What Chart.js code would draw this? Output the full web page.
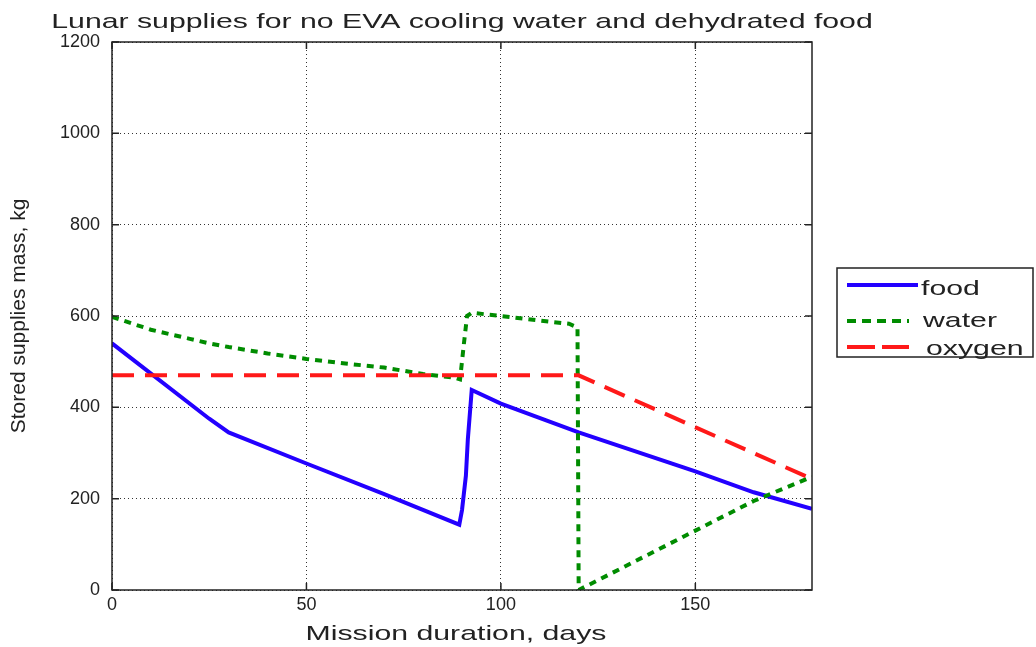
<!DOCTYPE html>
<html>
<head>
<meta charset="utf-8">
<script src="https://cdn.jsdelivr.net/npm/chart.js@4/dist/chart.umd.min.js"></script>
<style>
  body { margin: 0; background: #fff; }
</style>
</head>
<body>
<canvas id="grafico" width="1036" height="647"></canvas>
<script>
// dados (dias, kg)
const foodDays = [0, 25, 30, 50, 70, 89.3, 90, 91, 91.5, 92.5, 100, 120, 150, 165, 180];
const foodMass = [540, 375, 345, 277, 210, 143, 175, 250, 330, 438, 408, 345, 260, 214, 178];

const waterDays = [0, 10, 20, 25, 30, 40, 50, 60, 70, 80, 88, 89.5, 90.5, 91.3, 92.5, 100, 110, 117.5, 119.7, 120, 135, 150, 165, 180];
const waterMass = [598, 570, 550, 540, 532, 518, 506, 496, 487, 473, 465, 461, 540, 600, 607, 600, 590, 583, 575, 0, 65, 130, 195, 248];

const oxygenDays = [0, 120, 180];
const oxygenMass = [470, 470, 243];

const seriesNames = ['food', 'water', 'oxygen'];
const xTicks = [0, 50, 100, 150];
const yTicks = [0, 200, 400, 600, 800, 1000, 1200];

const tituloGrafico = 'Lunar supplies for no EVA cooling water and dehydrated food';
const tituloX = 'Mission duration, days';
const tituloY = 'Stored supplies mass, kg';

const pontos = (dias, massa) => dias.map((d, i) => ({ x: d, y: massa[i] }));

const cores = ['rgb(35,0,255)', 'rgb(0,140,0)', 'rgb(255,25,25)'];
const tracos = [[], [7, 6], [22, 11]];
const fonteTexto = '21px "Liberation Sans"';
const esticar = 1.44; // o texto do original é largo

// escreve texto esticado na horizontal
function textoLargo(ctx, texto, x, y, align) {
  ctx.save();
  ctx.font = fonteTexto;
  ctx.fillStyle = '#222';
  ctx.textBaseline = 'alphabetic';
  ctx.textAlign = 'left';
  const w = ctx.measureText(texto).width * esticar;
  let x0 = x;
  if (align === 'center') x0 = x - w / 2;
  ctx.translate(x0, y);
  ctx.scale(esticar, 1);
  ctx.fillText(texto, 0, 0);
  ctx.restore();
}

// caixa do eixo com marcas para dentro (estilo matlab)
const pluginCaixa = {
  id: 'pluginCaixa',
  afterDatasetsDraw(chart) {
    const { ctx, chartArea: a, scales: { x, y } } = chart;
    ctx.save();
    ctx.strokeStyle = '#222';
    ctx.lineWidth = 1.5;
    ctx.setLineDash([]);
    ctx.strokeRect(a.left, a.top, a.right - a.left, a.bottom - a.top);
    ctx.beginPath();
    xTicks.forEach(v => {
      const px = x.getPixelForValue(v);
      ctx.moveTo(px, a.bottom); ctx.lineTo(px, a.bottom - 7);
      ctx.moveTo(px, a.top); ctx.lineTo(px, a.top + 7);
    });
    yTicks.forEach(v => {
      const py = y.getPixelForValue(v);
      ctx.moveTo(a.left, py); ctx.lineTo(a.left + 7, py);
      ctx.moveTo(a.right, py); ctx.lineTo(a.right - 7, py);
    });
    ctx.stroke();
    ctx.restore();
  }
};

// título e rótulo do eixo x
const pluginTextos = {
  id: 'pluginTextos',
  afterDraw(chart) {
    const { ctx, chartArea: a } = chart;
    const meio = (a.left + a.right) / 2;
    textoLargo(ctx, tituloGrafico, meio, 28, 'center');
    textoLargo(ctx, tituloX, meio - 6, 640, 'center');
  }
};

// legenda desenhada à direita
const pluginLegenda = {
  id: 'pluginLegenda',
  afterDraw(chart) {
    const { ctx } = chart;
    const left = 837, top = 268, width = 196, height = 89;
    ctx.save();
    ctx.fillStyle = '#fff';
    ctx.fillRect(left, top, width, height);
    ctx.strokeStyle = '#222';
    ctx.lineWidth = 1.5;
    ctx.strokeRect(left, top, width, height);

    const linhas = [285, 321, 347];
    const bases = [295, 327, 355];
    const fim = [918, 909, 909];
    const xTexto = [921, 923, 926];
    const dashLeg = [[], [9, 6], [28, 7]];
    seriesNames.forEach((nome, i) => {
      ctx.strokeStyle = cores[i];
      ctx.lineWidth = 4;
      ctx.setLineDash(dashLeg[i]);
      ctx.beginPath();
      ctx.moveTo(847, linhas[i]);
      ctx.lineTo(fim[i], linhas[i]);
      ctx.stroke();
      textoLargo(ctx, nome, xTexto[i], bases[i], 'left');
    });
    ctx.restore();
  }
};

const datasets = [
  pontos(foodDays, foodMass),
  pontos(waterDays, waterMass),
  pontos(oxygenDays, oxygenMass)
].map((dados, i) => ({
  label: seriesNames[i],
  data: dados,
  borderColor: cores[i],
  backgroundColor: cores[i],
  borderWidth: 4,
  borderDash: tracos[i],
  pointRadius: 0,
  tension: 0,
  fill: false,
  order: 3 - i
}));

const ctx = document.getElementById('grafico').getContext('2d');
new Chart(ctx, {
  type: 'line',
  data: { datasets },
  options: {
    responsive: false,
    animation: false,
    layout: { padding: { left: 0, right: 224, top: 42, bottom: 0 } },
    plugins: {
      legend: { display: false },
      tooltip: { enabled: false },
      title: { display: false }
    },
    scales: {
      x: {
        type: 'linear',
        min: 0,
        max: 180,
        afterFit(scale) { scale.height = 57; },
        afterBuildTicks(scale) { scale.ticks = xTicks.map(v => ({ value: v })); },
        grid: { color: '#333', lineWidth: 1, drawTicks: false },
        border: { display: false, dash: [1, 3] },
        ticks: {
          color: '#222',
          padding: 4,
          font: { family: '"Liberation Sans"', size: 18 },
          callback: v => String(v)
        }
      },
      y: {
        min: 0,
        max: 1200,
        afterFit(scale) { scale.width = 112; },
        afterBuildTicks(scale) { scale.ticks = yTicks.map(v => ({ value: v })); },
        grid: { color: '#333', lineWidth: 1, drawTicks: false },
        border: { display: false, dash: [1, 3] },
        ticks: {
          color: '#222',
          padding: 12,
          font: { family: '"Liberation Sans"', size: 18 },
          callback: v => String(v)
        },
        title: {
          display: true,
          text: tituloY,
          color: '#222',
          font: { family: '"Liberation Sans"', size: 21 },
          padding: { top: 7, bottom: 0 }
        }
      }
    }
  },
  plugins: [pluginCaixa, pluginTextos, pluginLegenda]
});
</script>
</body>
</html>
